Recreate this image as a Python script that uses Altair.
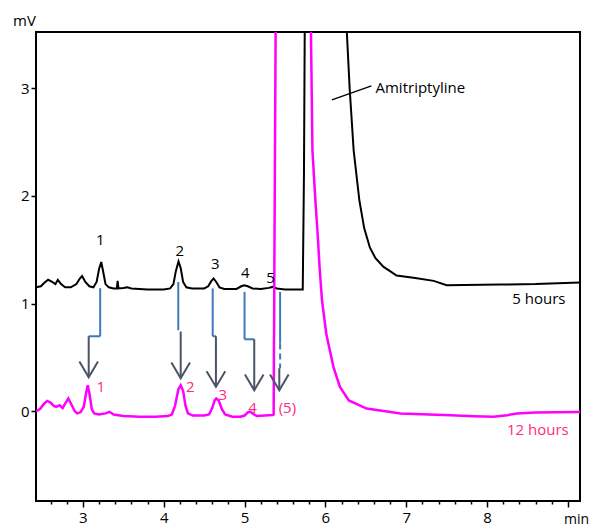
import altair as alt
import pandas as pd

FONT = "Open Sans"

# 5 hours trace (black), min / mV
black_x = [2.42, 2.48, 2.52, 2.57, 2.62, 2.66, 2.69, 2.73, 2.78, 2.85, 2.92, 2.96, 2.99, 3.03, 3.08,
           3.13, 3.17, 3.20, 3.227, 3.25, 3.28, 3.32, 3.38, 3.42, 3.43, 3.44, 3.50, 3.55, 3.60, 3.80,
           4.00, 4.08, 4.12, 4.15, 4.183, 4.21, 4.24, 4.28, 4.35, 4.50, 4.55, 4.59, 4.617, 4.65, 4.69,
           4.75, 4.90, 4.96, 4.996, 5.04, 5.10, 5.20, 5.30, 5.347, 5.40, 5.50, 5.65, 5.72, 5.735, 5.745,
           5.90, 6.10, 6.26, 6.30, 6.35, 6.42, 6.48, 6.55, 6.62, 6.72, 6.80, 6.88, 7.09, 7.34, 7.50,
           8.16, 8.60, 9.18]
black_y = [1.15, 1.16, 1.19, 1.22, 1.20, 1.18, 1.22, 1.18, 1.15, 1.15, 1.18, 1.23, 1.255, 1.20, 1.16,
           1.15, 1.20, 1.32, 1.385, 1.30, 1.18, 1.15, 1.14, 1.14, 1.21, 1.14, 1.145, 1.15, 1.14, 1.13,
           1.13, 1.14, 1.18, 1.30, 1.39, 1.33, 1.20, 1.15, 1.14, 1.14, 1.16, 1.21, 1.232, 1.20, 1.15,
           1.135, 1.135, 1.16, 1.17, 1.16, 1.14, 1.135, 1.145, 1.154, 1.14, 1.13, 1.13, 1.13, 2.2, 3.6,
           5.0, 5.0, 3.6, 3.0, 2.42, 1.96, 1.70, 1.52, 1.42, 1.34, 1.30, 1.26, 1.24, 1.21, 1.17,
           1.176, 1.18, 1.195]

# 12 hours trace (magenta)
mag_x = [2.42, 2.47, 2.52, 2.558, 2.60, 2.64, 2.67, 2.71, 2.75, 2.78, 2.82, 2.86, 2.90, 2.93, 2.97,
         3.01, 3.04, 3.06, 3.08, 3.11, 3.14, 3.20, 3.28, 3.33, 3.38, 3.50, 3.70, 3.90, 4.05, 4.10,
         4.14, 4.18, 4.21, 4.24, 4.27, 4.30, 4.36, 4.50, 4.56, 4.60, 4.63, 4.65, 4.68, 4.72, 4.76,
         4.85, 4.95, 5.00, 5.04, 5.07, 5.10, 5.15, 5.25, 5.35, 5.36, 5.37, 5.385, 5.50, 5.70, 5.82,
         5.84, 5.876, 5.904, 5.928, 5.958, 6.011, 6.10, 6.18, 6.29, 6.51, 6.93, 7.55, 7.83, 8.08,
         8.25, 8.37, 8.60, 9.18]
mag_y = [0.0, 0.02, 0.07, 0.096, 0.08, 0.05, 0.04, 0.056, 0.03, 0.07, 0.118, 0.06, 0.0, -0.02, -0.01,
         0.04, 0.17, 0.241, 0.17, 0.02, -0.02, -0.03, -0.02, -0.005, -0.03, -0.045, -0.05, -0.05, -0.045, -0.03,
         0.05, 0.20, 0.241, 0.19, 0.05, -0.02, -0.04, -0.04, -0.03, 0.03, 0.10, 0.118, 0.10, 0.02, -0.03,
         -0.05, -0.05, -0.04, -0.01, -0.005, -0.02, -0.045, -0.04, -0.035, -0.03, 1.5, 3.6, 5.5, 5.5, 3.6,
         2.42, 1.96, 1.65, 1.34, 1.03, 0.72, 0.41, 0.226, 0.10, 0.025, -0.021, -0.037, -0.046, -0.05,
         -0.037, -0.021, -0.012, -0.006]

# blue connector segments (solid)
blue_x1 = [3.214, 3.214, 4.18, 4.606, 4.606, 5.00, 5.00, 5.44]
blue_y1 = [1.142, 0.696, 1.20, 1.14, 0.696, 1.108, 0.668, 1.108]
blue_x2 = [3.214, 3.072, 4.18, 4.606, 4.646, 5.00, 5.12, 5.44]
blue_y2 = [0.696, 0.696, 0.752, 0.696, 0.696, 0.668, 0.668, 0.628]
# blue dashed segment (peak 5)
dash_x1 = [5.44]
dash_y1 = [0.628]
dash_x2 = [5.44]
dash_y2 = [0.40]
# gray arrows: shaft start and tip
arrow_x = [3.072, 4.21, 4.646, 5.12, 5.43]
arrow_ytop = [0.696, 0.74, 0.696, 0.668, 0.40]
arrow_ytip = [0.316, 0.306, 0.226, 0.195, 0.195]

# peak labels
black_lab = ["1", "2", "3", "4", "5"]
black_lab_x = [3.214, 4.20, 4.637, 5.01, 5.32]
black_lab_y = [1.59, 1.49, 1.37, 1.28, 1.24]
pink_lab = ["1", "2", "3", "4", "(5)"]
pink_lab_x = [3.22, 4.33, 4.73, 5.10, 5.53]
pink_lab_y = [0.226, 0.226, 0.149, 0.03, 0.03]

# leader line for Amitriptyline
lead_x1, lead_y1, lead_x2, lead_y2 = [6.08], [2.89], [6.57], [3.02]

xticks = [round(2.6 + 0.2 * i, 1) for i in range(33)]

xscale = alt.Scale(domain=[2.42, 9.15], nice=False, zero=False)
yscale = alt.Scale(domain=[-0.833, 3.52], nice=False, zero=False)

xaxis = alt.Axis(values=xticks,
                 labelExpr="(datum.value % 1 === 0 && datum.value < 9) ? format(datum.value, 'd') : ''",
                 tickSize={"condition": {"test": "datum.value % 1 === 0", "value": 6}, "value": 3},
                 domain=False, grid=False, labelOverlap=False,
                 title="min", titleX=540, titleY=22, titleAlign="center",
                 titleBaseline="alphabetic", titleFontWeight="normal", titleFont=FONT,
                 titleFontSize=14, titleColor="black",
                 labelFont=FONT, labelFontSize=15, labelPadding=3, labelColor="black",
                 tickColor="black", tickWidth=1.5)
yaxis = alt.Axis(values=[0, 1, 2, 3], domain=False, grid=False, tickSize=5,
                 tickColor="black", tickWidth=1.5,
                 labelFont=FONT, labelFontSize=15, labelPadding=2, labelColor="black",
                 title="mV", titleAngle=0, titleX=-12, titleY=-7, titleAlign="center",
                 titleBaseline="alphabetic", titleFontWeight="normal", titleFont=FONT,
                 titleFontSize=15, titleColor="black")

X = alt.X("x:Q", scale=xscale, axis=xaxis)
Y = alt.Y("y:Q", scale=yscale, axis=yaxis)

df_black = pd.DataFrame({"x": black_x, "y": black_y, "o": range(len(black_x))})
df_mag = pd.DataFrame({"x": mag_x, "y": mag_y, "o": range(len(mag_x))})
df_blue = pd.DataFrame({"x": blue_x1, "y": blue_y1, "x2": blue_x2, "y2": blue_y2})
df_dash = pd.DataFrame({"x": dash_x1, "y": dash_y1, "x2": dash_x2, "y2": dash_y2})
df_shaft = pd.DataFrame({"x": arrow_x, "y": arrow_ytop, "x2": arrow_x, "y2": arrow_ytip})
df_tip = pd.DataFrame({"x": arrow_x, "y": arrow_ytip})
df_blab = pd.DataFrame({"x": black_lab_x, "y": black_lab_y, "t": black_lab})
df_plab = pd.DataFrame({"x": pink_lab_x, "y": pink_lab_y, "t": pink_lab})
df_lead = pd.DataFrame({"x": lead_x1, "y": lead_y1, "x2": lead_x2, "y2": lead_y2})
df_names = pd.DataFrame({"x": [6.62], "y": [3.0], "t": ["Amitriptyline"]})
df_h5 = pd.DataFrame({"x": [8.97], "y": [1.04], "t": ["5 hours"]})
df_h12 = pd.DataFrame({"x": [9.01], "y": [-0.176], "t": ["12 hours"]})

BLUE = "#3d7ab8"
GRAY = "#4a5466"
PINK = "#ff2a7f"

black_line = alt.Chart(df_black).mark_line(color="black", strokeWidth=2, clip=True).encode(
    x=X, y=Y, order="o:Q")
mag_line = alt.Chart(df_mag).mark_line(color="#ff00ff", strokeWidth=2.5, clip=True).encode(
    x=X, y=Y, order="o:Q")
blue_rules = alt.Chart(df_blue).mark_rule(color=BLUE, strokeWidth=2).encode(
    x=X, y=Y, x2="x2:Q", y2="y2:Q")
dash_rules = alt.Chart(df_dash).mark_rule(color=BLUE, strokeWidth=2, strokeDash=[6, 4]).encode(
    x=X, y=Y, x2="x2:Q", y2="y2:Q")
shafts = alt.Chart(df_shaft).mark_rule(color=GRAY, strokeWidth=2).encode(
    x=X, y=Y, x2="x2:Q", y2="y2:Q")
tips = alt.Chart(df_tip).mark_point(shape="M -0.93 -1.57 L 0 0 L 0.93 -1.57", filled=False,
                                    size=400, color=GRAY, strokeWidth=2, opacity=1).encode(x=X, y=Y)
blabs = alt.Chart(df_blab).mark_text(font=FONT, fontSize=15, color="black",
                                     align="center", baseline="middle").encode(x=X, y=Y, text="t:N")
plabs = alt.Chart(df_plab).mark_text(font=FONT, fontSize=15, color=PINK,
                                     align="center", baseline="middle").encode(x=X, y=Y, text="t:N")
lead = alt.Chart(df_lead).mark_rule(color="black", strokeWidth=1.5).encode(
    x=X, y=Y, x2="x2:Q", y2="y2:Q")
names = alt.Chart(df_names).mark_text(font=FONT, fontSize=15, color="black",
                                      align="left", baseline="middle").encode(x=X, y=Y, text="t:N")
h5 = alt.Chart(df_h5).mark_text(font=FONT, fontSize=15, color="black",
                                align="right", baseline="middle").encode(x=X, y=Y, text="t:N")
h12 = alt.Chart(df_h12).mark_text(font=FONT, fontSize=15, color=PINK,
                                  align="right", baseline="middle").encode(x=X, y=Y, text="t:N")

chart = alt.layer(black_line, mag_line, blue_rules, dash_rules, shafts, tips,
                  blabs, plabs, lead, names, h5, h12).properties(
    width=544, height=469, autosize="none",
    padding={"left": 36, "top": 32, "right": 14, "bottom": 25},
    background="white",
).configure_view(stroke="black", strokeWidth=2)

chart.save("out.html", embed_options={"renderer": "svg", "actions": False})
